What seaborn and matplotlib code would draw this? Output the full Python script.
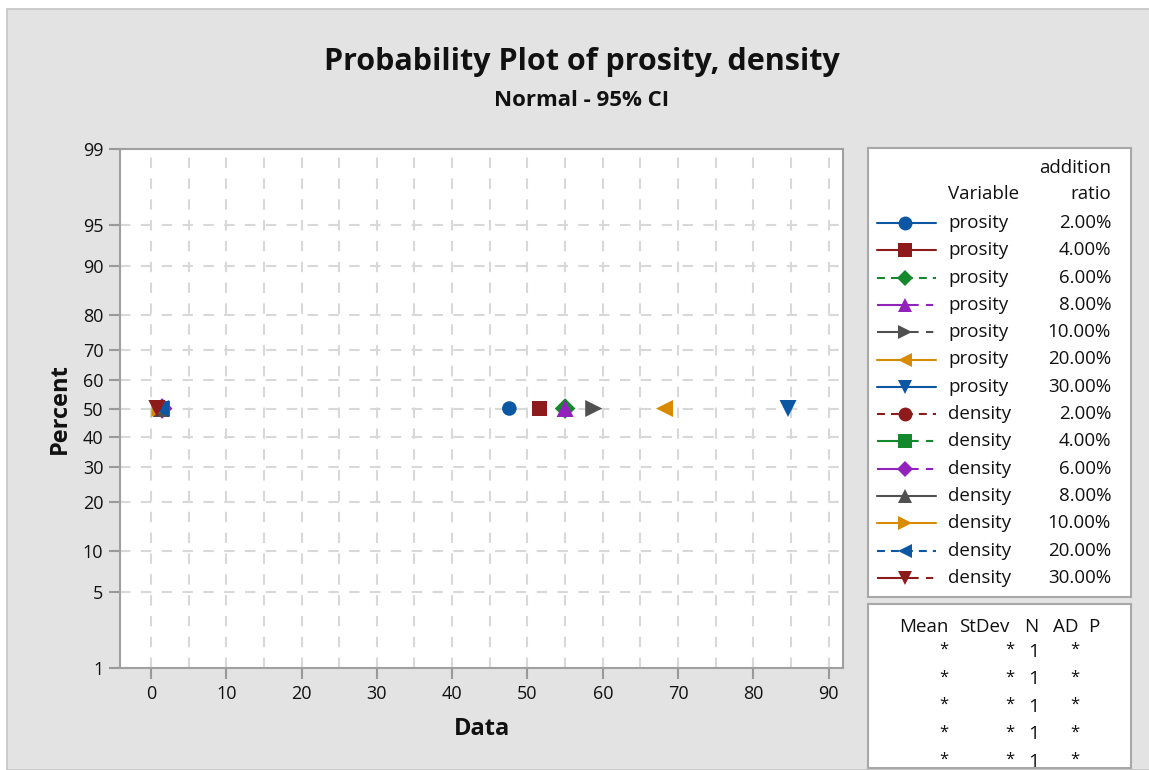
import numpy as np
import pandas as pd
import seaborn as sns
import matplotlib
matplotlib.use("Agg")
import matplotlib.pyplot as plt
from matplotlib.lines import Line2D
from matplotlib.patches import Rectangle
from statistics import NormalDist

# ---------------- data ----------------
variables = ["prosity"] * 7 + ["density"] * 7
ratios = ["2.00%", "4.00%", "6.00%", "8.00%", "10.00%", "20.00%", "30.00%"] * 2
values = [47.6, 51.6, 55.0, 55.0, 58.8, 68.2, 84.6,
          1.5, 1.6, 1.5, 1.4, 1.2, 1.3, 0.8]
percent = [50.0] * 14

series_colors = ["#0b57a4", "#8e1b1b", "#14892c", "#9322bd", "#505050", "#d88b00", "#0b57a4",
                 "#8e1b1b", "#14892c", "#9322bd", "#505050", "#d88b00", "#0b57a4", "#8e1b1b"]
series_markers = ["o", "s", "D", "^", ">", "<", "v",
                  "o", "s", "D", "^", ">", "<", "v"]
DASH = (0, (3.8, 2.9))
LONGSHORT = (0, (20, 3.5, 3.5, 3.5))
series_lines = ["-", "-", DASH, LONGSHORT, LONGSHORT, "-", "-",
                DASH, LONGSHORT, LONGSHORT, "-", "-", DASH, LONGSHORT]

y_ticks_pct = [1, 5, 10, 20, 30, 40, 50, 60, 70, 80, 90, 95, 99]
x_ticks = [0, 10, 20, 30, 40, 50, 60, 70, 80, 90]

stat_header = ["Mean", "StDev", "N", "AD", "P"]
stat_mean = ["*", "*", "*", "*", "*"]
stat_stdev = ["*", "*", "*", "*", "*"]
stat_n = ["1", "1", "1", "1", "1"]
stat_ad = ["*", "*", "*", "*", "*"]

# ---------------- style ----------------
sns.set_theme(style="white")
plt.rcParams["font.family"] = ["Open Sans", "DejaVu Sans"]

W, H = 1149, 770
fig = plt.figure(figsize=(W / 100, H / 100), dpi=100)
fig.patch.set_facecolor("white")
fig.patches.append(Rectangle((7 / W, 0), 1.0, 1 - 9 / H, transform=fig.transFigure,
                             facecolor="#e3e3e3", edgecolor="#c4c4c4", linewidth=1.2, zorder=-10))

nd = NormalDist()
to_z = lambda p: nd.inv_cdf(p / 100.0)

df = pd.DataFrame({"variable": variables, "ratio": ratios, "value": values,
                   "z": [to_z(p) for p in percent]})
df["label"] = df["variable"] + " " + df["ratio"]

ax = fig.add_axes([120 / W, 1 - 668 / H, (843 - 120) / W, (668 - 149) / H])
ax.set_facecolor("white")

for i, row in df.iterrows():
    sns.scatterplot(data=df.iloc[[i]], x="value", y="z", ax=ax,
                    marker=series_markers[i], color=series_colors[i],
                    s=150 if series_markers[i] in ("^", ">", "<", "v") else 110,
                    edgecolor="none", linewidth=0, legend=False, zorder=5 + i)

ax.set_xlim(-4.1, 91.9)
ax.set_ylim(to_z(1), to_z(99))
ax.set_xticks(x_ticks)
ax.set_xticklabels([str(t) for t in x_ticks])
ax.set_xticks([5 + 10 * k for k in range(9)], minor=True)
ax.set_yticks([to_z(p) for p in y_ticks_pct])
ax.set_yticklabels([str(p) for p in y_ticks_pct])

ax.tick_params(axis="both", which="major", direction="out", length=8, width=1.5,
               color="#999999", labelsize=13, labelcolor="#111111", pad=4,
               left=True, bottom=True)
ax.tick_params(axis="x", which="minor", length=0)

grid_kw = dict(color="#d8d8d8", linewidth=1.5, linestyle=(0, (5, 5)), zorder=0)
for t in x_ticks + [5 + 10 * k for k in range(9)]:
    ax.axvline(t, **grid_kw)
for p in y_ticks_pct[1:-1]:
    ax.axhline(to_z(p), **grid_kw)

for sp in ax.spines.values():
    sp.set_color("#a0a0a0")
    sp.set_linewidth(1.5)

ax.set_xlabel("Data", fontsize=17, fontweight="bold", color="#111111", labelpad=10)
ax.set_ylabel("Percent", fontsize=17, fontweight="bold", color="#111111", labelpad=8)

fig.text(582 / W, 1 - 62 / H, "Probability Plot of prosity, density", ha="center", va="center",
         fontsize=22, fontweight="bold", color="#111111")
fig.text(582 / W, 1 - 100 / H, "Normal - 95% CI", ha="center", va="center",
         fontsize=16, fontweight="bold", color="#111111")

# ---------------- legend box ----------------
lax = fig.add_axes([868 / W, 1 - 597 / H, (1131 - 868) / W, (597 - 148) / H])
lax.set_autoscale_on(False)
lax.set_xlim(868, 1131)
lax.set_ylim(597, 148)
lax.set_xticks([])
lax.set_yticks([])
lax.set_facecolor("white")
for sp in lax.spines.values():
    sp.set_color("#a8a8a8")
    sp.set_linewidth(1.5)

fs = 13.5
lax.text(1111, 168, "addition", ha="right", va="center", fontsize=fs, color="#111111")
lax.text(1111, 194, "ratio", ha="right", va="center", fontsize=fs, color="#111111")
lax.text(948, 194, "Variable", ha="left", va="center", fontsize=fs, color="#111111")
for i in range(len(df)):
    y = 223 + i * 27.3
    lax.add_line(Line2D([877, 936], [y, y], color=series_colors[i], linestyle=series_lines[i],
                        linewidth=1.5))
    lax.add_line(Line2D([905], [y], marker=series_markers[i], color=series_colors[i],
                        markersize=10 if series_markers[i] != "D" else 8.5,
                        markeredgewidth=0, linestyle="none"))
    lax.text(948, y, variables[i], ha="left", va="center", fontsize=fs, color="#111111")
    lax.text(1111, y, ratios[i], ha="right", va="center", fontsize=fs, color="#111111")

# ---------------- stats box ----------------
sax = fig.add_axes([868 / W, 1 - 768 / H, (1131 - 868) / W, (768 - 604) / H])
sax.set_autoscale_on(False)
sax.set_xlim(868, 1131)
sax.set_ylim(768, 604)
sax.set_xticks([])
sax.set_yticks([])
sax.set_facecolor("white")
for sp in sax.spines.values():
    sp.set_color("#a8a8a8")
    sp.set_linewidth(1.5)

hdr_x = [924, 984, 1031, 1066, 1094]
for hx, h in zip(hdr_x, stat_header):
    sax.text(hx, 627, h, ha="center", va="center", fontsize=13.5, color="#111111")
for r in range(len(stat_n)):
    y = 650 + r * 27.5
    sax.text(944, y, stat_mean[r], ha="center", va="center", fontsize=12, color="#111111")
    sax.text(1010, y, stat_stdev[r], ha="center", va="center", fontsize=12, color="#111111")
    sax.text(1034, y + 2, stat_n[r], ha="center", va="center", fontsize=14, color="#111111")
    sax.text(1075, y, stat_ad[r], ha="center", va="center", fontsize=12, color="#111111")

fig.savefig("out.png", dpi=100, facecolor=fig.get_facecolor())
